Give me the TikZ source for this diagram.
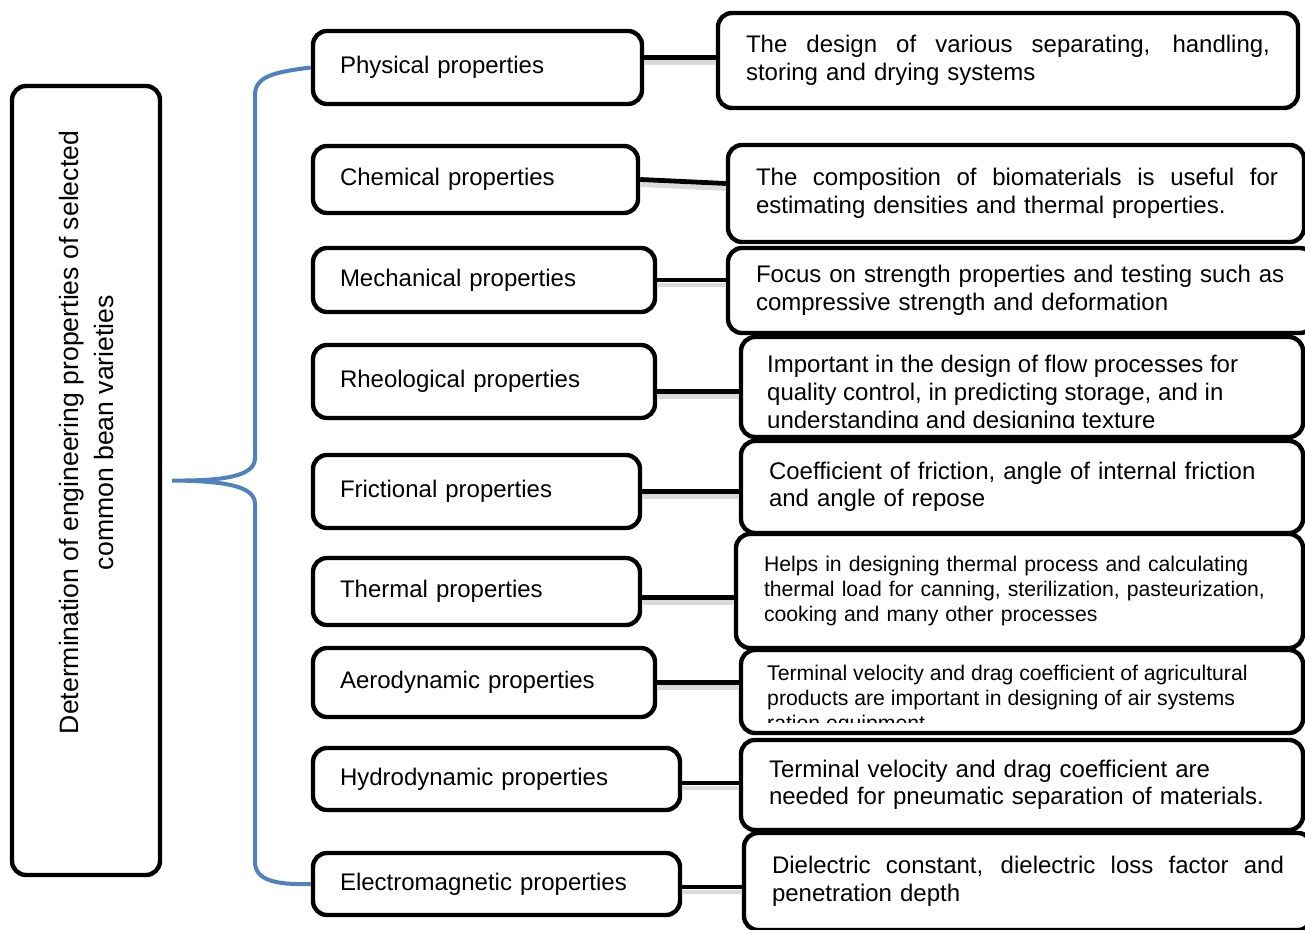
\documentclass[tikz,border=0pt]{standalone}
\usepackage{fontspec}
\setmainfont{Liberation Sans}
\usetikzlibrary{positioning}
\definecolor{braceblue}{RGB}{79,129,189}
\newcommand{\justline}[2]{\makebox[#1][s]{\spaceskip=.28em plus 2em\relax #2}}

\begin{document}
\begin{tikzpicture}[
    x=0.5pt,y=-0.5pt,
    boxLine/.style={draw,line width=2.2pt,rounded corners=7pt,fill=white},
    propNode/.style={boxLine,align=left,inner xsep=13.5pt,font=\fontsize{12}{14}\selectfont},
    useNode/.style={boxLine,align=left,inner xsep=14pt,font=\fontsize{12}{13.75}\selectfont},
    smallText/.style={font=\fontsize{10.6}{12.4}\selectfont},
    link/.style={line width=2.4pt,preaction={draw=black!15,line width=2.4pt,transform canvas={yshift=-2.5pt}}},
  ]
    \useasboundingbox (0,0) rectangle (1305,930);

    % main topic
    \node[boxLine,minimum width=74pt,minimum height=394.5pt] (main) at (86,480.5) {};
    \node[rotate=90,align=center,font=\fontsize{13.3}{17.5}\selectfont] (title) at ([yshift=24pt]main.center)
      {Determination of engineering properties of selected\\common bean varieties};

    % properties
    \node[propNode,minimum width=164.5pt,minimum height=36.5pt,text width=137.5pt] (p1) at (477.5,67.5) {Physical properties};
    \node[propNode,minimum width=162.5pt,minimum height=33.5pt,text width=135.5pt] (p2) at (475.5,179.5) {Chemical properties};
    \node[propNode,minimum width=171pt,minimum height=32pt,text width=144pt] (p3) at (484,280) {Mechanical properties};
    \node[propNode,minimum width=171pt,minimum height=36.5pt,text width=144pt] (p4) at (484,381.5) {Rheological properties};
    \node[propNode,minimum width=163.5pt,minimum height=36.5pt,text width=136.5pt] (p5) at (476.5,491.5) {Frictional properties};
    \node[propNode,minimum width=163.5pt,minimum height=33.5pt,text width=136.5pt] (p6) at (476.5,591.5) {Thermal properties};
    \node[propNode,minimum width=171pt,minimum height=34.5pt,text width=144pt] (p7) at (484,682.5) {Aerodynamic properties};
    \node[propNode,minimum width=183.5pt,minimum height=31pt,text width=156.5pt] (p8) at (496.5,779) {Hydrodynamic properties};
    \node[propNode,minimum width=183.5pt,minimum height=31pt,text width=156.5pt] (p9) at (496.5,884) {Electromagnetic properties};

    % uses
    \node[useNode,minimum width=290pt,minimum height=47.5pt,text width=262pt] (u1) at (1008,60.5)
      {\justline{262pt}{The design of various separating, handling,}\\storing and drying systems};
    \node[useNode,minimum width=288pt,minimum height=48.5pt,text width=260pt] (u2) at (1016,193.5)
      {\justline{261pt}{The composition of biomaterials is useful for}\\estimating densities and thermal properties.};
    \node[useNode,minimum width=293pt,minimum height=42.5pt,text width=265pt] (u3) at (1021,290.5)
      {Focus on strength properties and testing such as\\compressive strength and deformation};
    \node[useNode,minimum width=281pt,minimum height=50pt] (u4) at (1022,387) {};
    \begin{scope}
      \clip (u4.north west) rectangle ([yshift=6pt]u4.south east);
      \node[anchor=north west,inner sep=0pt,align=left,font=\fontsize{12}{14}\selectfont] (t4) at ([xshift=14pt,yshift=-10pt]u4.north west)
        {Important in the design of flow processes for\\quality control, in predicting storage, and in\\understanding and designing texture};
    \end{scope}
    \node[useNode,minimum width=281pt,minimum height=46pt,text width=253pt] (u5) at (1022,487)
      {Coefficient of friction, angle of internal friction\\and angle of repose};
    \node[useNode,smallText,minimum width=283.5pt,minimum height=57pt,text width=255.5pt] (u6) at (1019.5,591)
      {Helps in designing thermal process and calculating\\thermal load for canning, sterilization, pasteurization,\\cooking and many other processes};
    \node[useNode,minimum width=281pt,minimum height=41.5pt] (u7) at (1022,691.5) {};
    \begin{scope}
      \clip (u7.north west) rectangle ([yshift=6.5pt]u7.south east);
      \node[anchor=north west,inner sep=0pt,align=left,smallText] (t7) at ([xshift=14pt,yshift=-8.5pt]u7.north west)
        {Terminal velocity and drag coefficient of agricultural\\products are important in designing of air systems\\ration equipment};
    \end{scope}
    \node[useNode,minimum width=281pt,minimum height=45pt,text width=253pt] (u8) at (1022,785)
      {Terminal velocity and drag coefficient are\\needed for pneumatic separation of materials.};
    \node[useNode,minimum width=284pt,minimum height=48.5pt,text width=256pt] (u9) at (1028,881.5)
      {\justline{256pt}{Dielectric constant, dielectric loss factor and}\\penetration depth};

    % links
    \draw[link] ([yshift=5pt]p1.east) -- ([yshift=5pt]p1.east -| u1.west);
    \draw[link] (p2.east) -- ([yshift=-2pt]p2.east -| u2.west);
    \draw[link] (p3.east) -- (p3.east -| u3.west);
    \draw[link] ([yshift=-5pt]p4.east) -- ([yshift=-5pt]p4.east -| u4.west);
    \draw[link] (p5.east) -- (p5.east -| u5.west);
    \draw[link] ([yshift=-3pt]p6.east) -- ([yshift=-3pt]p6.east -| u6.west);
    \draw[link] (p7.east) -- (p7.east -| u7.west);
    \draw[link] ([yshift=-2pt]p8.east) -- ([yshift=-2pt]p8.east -| u8.west);
    \draw[link] ([yshift=-1.5pt]p9.east) -- ([yshift=-1.5pt]p9.east -| u9.west);

    % brace
    \coordinate (tip) at ([xshift=5pt]main.east);
    \draw[braceblue,line width=2pt] (p1.west) .. controls (275,72) and (255,76) .. (255,95) -- (255,458)
      .. controls (255,476) and (225,481) .. (tip) .. controls (225,481) and (255,486) .. (255,504)
      -- (255,862) .. controls (255,880) and (275,885) .. (p9.west);
  \end{tikzpicture}
\end{document}
